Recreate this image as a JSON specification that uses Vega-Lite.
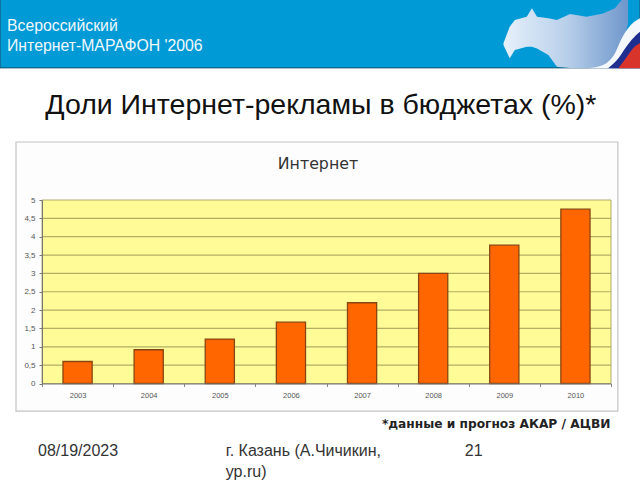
{"$schema":"https://vega.github.io/schema/vega-lite/v6.json","width":569,"height":183.5,"autosize":"none","padding":{"left":42,"top":200,"right":29,"bottom":96.5},"background":"white","config":{"view":{"stroke":null}},"resolve":{"scale":{"x":"independent","y":"independent"}},"layer":[{"layer":[
{"data":{"values":[{"p":"frame"}]},"mark":{"type":"rect","fill":"#fdfdfd","stroke":"#c4c4c4","strokeWidth":1.2},"encoding":{"x":{"datum":-4.57,"type":"quantitative","scale":{"domain":[0,100],"nice":false,"zero":false},"axis":null},"x2":{"datum":101.2},"y":{"datum":131.6,"type":"quantitative","scale":{"domain":[0,100],"nice":false,"zero":false},"axis":null},"y2":{"datum":-15}}},
{"data":{"values":[{"p":"header"}]},"mark":{"type":"rect","fill":"#009bd7","stroke":"#16506b","strokeWidth":1},"encoding":{"x":{"datum":-7.38,"type":"quantitative"},"x2":{"datum":105.1},"y":{"datum":209.5,"type":"quantitative"},"y2":{"datum":172}}},
{"data":{"values":[{"a":81.1,"b":185.4,"c":184.5},{"a":82.2,"b":194.4,"c":177.2},{"a":83.1,"b":198.1,"c":181.7},{"a":85.2,"b":199.9,"c":183.5},{"a":86.1,"b":204.5,"c":183.5},{"a":87.0,"b":199.9,"c":182.6},{"a":89.0,"b":199.0,"c":179.0},{"a":90.5,"b":198.1,"c":172.6},{"a":92.8,"b":201.4,"c":172},{"a":95.7,"b":199.9,"c":172},{"a":98.6,"b":201.7,"c":172},{"a":100.7,"b":204.5,"c":174.5},{"a":101.9,"b":209,"c":181.7},{"a":103.0,"b":209,"c":196.4}]},"mark":{"type":"area","color":{"gradient":"linear","x1":0,"x2":1,"y1":0,"y2":0,"stops":[{"offset":0,"color":"#e6f1fb"},{"offset":0.5,"color":"#b9d0ea"},{"offset":1,"color":"#6f97cc"}]}},"encoding":{"x":{"field":"a","type":"quantitative"},"y":{"field":"b","type":"quantitative"},"y2":{"field":"c"}}},
{"data":{"values":[{"a":96.0,"b":171.8},{"a":98.6,"b":173.6},{"a":100.7,"b":180},{"a":101.9,"b":188.1},{"a":103.0,"b":193.6},{"a":105.1,"b":199}]},"mark":{"type":"area","color":"#f4f7fb","interpolate":"monotone"},"encoding":{"x":{"field":"a","type":"quantitative"},"y":{"field":"b","type":"quantitative"},"y2":{"datum":171.8}}},
{"data":{"values":[{"a":99.5,"b":171.8},{"a":101.3,"b":177.2},{"a":102.5,"b":182.7},{"a":103.6,"b":187.2},{"a":105.1,"b":191.7}]},"mark":{"type":"area","color":"#1f2f8f","interpolate":"monotone"},"encoding":{"x":{"field":"a","type":"quantitative"},"y":{"field":"b","type":"quantitative"},"y2":{"datum":171.8}}},
{"data":{"values":[{"a":101.3,"b":171.8},{"a":102.8,"b":178.1},{"a":103.9,"b":182.7},{"a":105.1,"b":185.4}]},"mark":{"type":"area","color":"#d9342b","interpolate":"monotone"},"encoding":{"x":{"field":"a","type":"quantitative"},"y":{"field":"b","type":"quantitative"},"y2":{"datum":171.8}}},
{"data":{"values":[{"t":"Всероссийский"}]},"mark":{"type":"text","align":"left","baseline":"middle","font":"Liberation Sans","fontSize":15.8,"color":"#f2f8fc"},"encoding":{"x":{"datum":-6.15,"type":"quantitative"},"y":{"datum":195,"type":"quantitative"},"text":{"field":"t"}}},
{"data":{"values":[{"t":"Интернет-МАРАФОН '2006"}]},"mark":{"type":"text","align":"left","baseline":"middle","font":"Liberation Sans","fontSize":15.8,"color":"#f2f8fc"},"encoding":{"x":{"datum":-6.15,"type":"quantitative"},"y":{"datum":184.1,"type":"quantitative"},"text":{"field":"t"}}},
{"data":{"values":[{"t":"Доли Интернет-рекламы в бюджетах (%)*"}]},"mark":{"type":"text","align":"center","baseline":"middle","font":"Liberation Sans","fontSize":28.5,"color":"#111111"},"encoding":{"x":{"datum":49,"type":"quantitative"},"y":{"datum":151.5,"type":"quantitative"},"text":{"field":"t"}}},
{"data":{"values":[{"t":"Интернет"}]},"mark":{"type":"text","align":"center","baseline":"middle","font":"DejaVu Sans","fontSize":15.8,"color":"#333333"},"encoding":{"x":{"datum":48.5,"type":"quantitative"},"y":{"datum":119.6,"type":"quantitative"},"text":{"field":"t"}}},
{"data":{"values":[{"t":"*данные и прогноз АКАР / АЦВИ"}]},"mark":{"type":"text","align":"right","baseline":"middle","font":"DejaVu Sans","fontWeight":"bold","fontSize":12.2,"color":"#222222"},"encoding":{"x":{"datum":99.9,"type":"quantitative"},"y":{"datum":-22,"type":"quantitative"},"text":{"field":"t"}}},
{"data":{"values":[{"t":"08/19/2023"}]},"mark":{"type":"text","align":"left","baseline":"middle","font":"Liberation Sans","fontSize":16,"color":"#333333"},"encoding":{"x":{"datum":-0.7,"type":"quantitative"},"y":{"datum":-37,"type":"quantitative"},"text":{"field":"t"}}},
{"data":{"values":[{"t":"г. Казань (А.Чичикин,"}]},"mark":{"type":"text","align":"left","baseline":"middle","font":"Liberation Sans","fontSize":16,"color":"#333333"},"encoding":{"x":{"datum":32.3,"type":"quantitative"},"y":{"datum":-37,"type":"quantitative"},"text":{"field":"t"}}},
{"data":{"values":[{"t":"ур.ru)"}]},"mark":{"type":"text","align":"left","baseline":"middle","font":"Liberation Sans","fontSize":16,"color":"#333333"},"encoding":{"x":{"datum":32.3,"type":"quantitative"},"y":{"datum":-48,"type":"quantitative"},"text":{"field":"t"}}},
{"data":{"values":[{"t":"21"}]},"mark":{"type":"text","align":"left","baseline":"middle","font":"Liberation Sans","fontSize":16,"color":"#333333"},"encoding":{"x":{"datum":74.3,"type":"quantitative"},"y":{"datum":-37,"type":"quantitative"},"text":{"field":"t"}}}
]},{"layer":[
{"data":{"values":[{"p":"plot"}]},"mark":{"type":"rect","fill":"#fffb96","stroke":"#b0ac68","strokeWidth":1},"encoding":{"y":{"datum":0,"type":"quantitative","scale":{"domain":[0,5],"nice":false},"axis":{"orient":"left","values":[0,0.5,1,1.5,2,2.5,3,3.5,4,4.5,5],"labelExpr":"replace(datum.label,'.',',')","format":"~g","title":null,"grid":false,"zindex":1,"labelFont":"Liberation Sans","labelFontSize":8,"labelColor":"#555555","tickColor":"#777777","tickSize":3,"domainColor":"#777777","labelPadding":4}},"y2":{"datum":5}}},
{"data":{"values":[{"g":0.5},{"g":1},{"g":1.5},{"g":2},{"g":2.5},{"g":3},{"g":3.5},{"g":4},{"g":4.5}]},"mark":{"type":"rule","color":"#b3ae66","strokeWidth":1.2},"encoding":{"y":{"field":"g","type":"quantitative","axis":{"orient":"left","values":[0,0.5,1,1.5,2,2.5,3,3.5,4,4.5,5],"labelExpr":"replace(datum.label,'.',',')","format":"~g","title":null,"grid":false,"zindex":1,"labelFont":"Liberation Sans","labelFontSize":8,"labelColor":"#555555","tickColor":"#777777","tickSize":3,"domainColor":"#777777","labelPadding":4}}}},
{"data":{"values":[{"year":"2003","share":0.6},{"year":"2004","share":0.92},{"year":"2005","share":1.21},{"year":"2006","share":1.67},{"year":"2007","share":2.2},{"year":"2008","share":3.0},{"year":"2009","share":3.77},{"year":"2010","share":4.75}]},"mark":{"type":"bar","width":{"band":0.41},"color":"#ff6600","stroke":"#8a4510","strokeWidth":1.3},"encoding":{"x":{"field":"year","type":"nominal","scale":{"paddingInner":0,"paddingOuter":0},"axis":{"orient":"bottom","title":null,"labelAngle":0,"zindex":1,"tickBand":"extent","labelFont":"Liberation Sans","labelFontSize":7.5,"labelColor":"#555555","tickColor":"#888888","tickSize":3,"domainColor":"#777777","labelPadding":5}},"y":{"field":"share","type":"quantitative","axis":{"orient":"left","values":[0,0.5,1,1.5,2,2.5,3,3.5,4,4.5,5],"labelExpr":"replace(datum.label,'.',',')","format":"~g","title":null,"grid":false,"zindex":1,"labelFont":"Liberation Sans","labelFontSize":8,"labelColor":"#555555","tickColor":"#777777","tickSize":3,"domainColor":"#777777","labelPadding":4}}}}
]}]}
